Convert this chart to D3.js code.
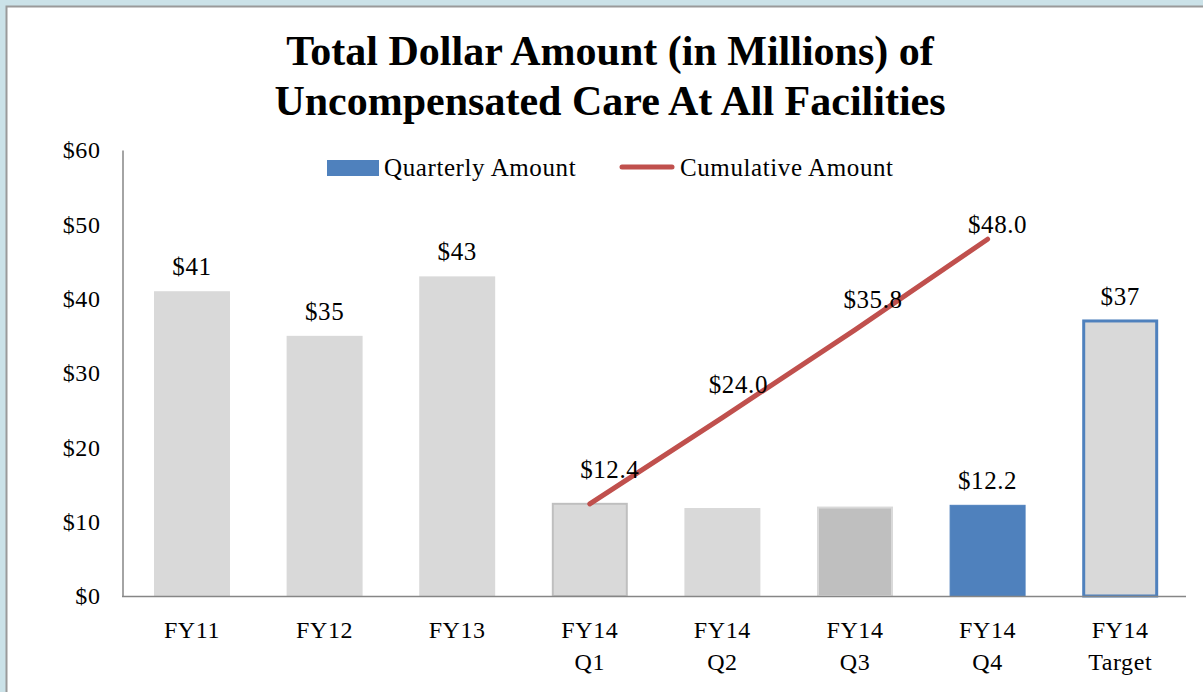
<!DOCTYPE html>
<html>
<head>
<meta charset="utf-8">
<script src="https://cdn.jsdelivr.net/npm/d3@7"></script>
<style>
  html, body { margin: 0; padding: 0; background: #cbe2e8; }
  svg { display: block; }
  text { font-family: "Liberation Serif", "Times New Roman", serif; fill: #000; }
</style>
</head>
<body>
<svg id="chart" width="1203" height="692"></svg>
<script>
// ---- data ----
const categories = ["FY11", "FY12", "FY13", "FY14 Q1", "FY14 Q2", "FY14 Q3", "FY14 Q4", "FY14 Target"];
const categoryLines = [["FY11"], ["FY12"], ["FY13"], ["FY14", "Q1"], ["FY14", "Q2"], ["FY14", "Q3"], ["FY14", "Q4"], ["FY14", "Target"]];
const barValues = [41, 35, 43, 12.4, 11.7, 11.9, 12.2, 37];
const barLabels = ["$41", "$35", "$43", "", "", "", "$12.2", "$37"];
const cumulativeCategories = ["FY14 Q1", "FY14 Q2", "FY14 Q3", "FY14 Q4"];
const cumulativeValues = [12.4, 24.0, 35.8, 48.0];
const cumulativeLabels = ["$12.4", "$24.0", "$35.8", "$48.0"];
const yTicks = [0, 10, 20, 30, 40, 50, 60];
const yTickLabels = ["$0", "$10", "$20", "$30", "$40", "$50", "$60"];
const titleLines = ["Total Dollar Amount (in Millions) of", "Uncompensated Care At All Facilities"];
const legendLabels = ["Quarterly Amount", "Cumulative Amount"];

// ---- styles (kept apart from data) ----
const barStyle = [
  {fill: "#d9d9d9", stroke: "none", sw: 0},
  {fill: "#d9d9d9", stroke: "none", sw: 0},
  {fill: "#d9d9d9", stroke: "none", sw: 0},
  {fill: "#d9d9d9", stroke: "#bfbfbf", sw: 2},
  {fill: "#d9d9d9", stroke: "#d9d9d9", sw: 2},
  {fill: "#bfbfbf", stroke: "#d9d9d9", sw: 2},
  {fill: "#4f81bd", stroke: "#4f81bd", sw: 1},
  {fill: "#d9d9d9", stroke: "#4f81bd", sw: 3}
];
const lineLabelOffset = [[20, -26], [16, -25], [18, -22], [10, -6]];

const svg = d3.select("#chart");

// panel
svg.append("rect").attr("x", 6.5).attr("y", 6.5).attr("width", 1250).attr("height", 760)
  .attr("fill", "#fff").attr("stroke", "#9a9a9a").attr("stroke-width", 2);

// title
svg.append("g").selectAll("text").data(titleLines).join("text")
  .attr("x", 610).attr("y", (d, i) => 65 + i * 50)
  .attr("text-anchor", "middle")
  .style("font-size", "42px").style("font-weight", "bold")
  .text(d => d);

// scales
const x = d3.scaleBand().domain(categories).range([125.7, 1186.5]).paddingInner(0.427).paddingOuter(0.2135);
const y = d3.scaleLinear().domain([0, 60]).range([596, 150]);

// y axis
const yAxis = d3.axisLeft(y).tickValues(yTicks).tickFormat((d, i) => yTickLabels[i]).tickSize(0).tickPadding(22);
const gy = svg.append("g").attr("transform", "translate(122.5,0)").call(yAxis);
gy.select(".domain").attr("stroke", "#868686").attr("stroke-width", 1.5);
gy.selectAll("text").style("font-size", "24px").style("font-family", "Liberation Serif, Times New Roman, serif")
  .style("letter-spacing", "0.6px").attr("dy", "0.32em");

// bars
svg.append("g").selectAll("rect").data(barValues).join("rect")
  .attr("x", (d, i) => x(categories[i]) + barStyle[i].sw / 2)
  .attr("width", (d, i) => x.bandwidth() - barStyle[i].sw)
  .attr("y", d => y(d))
  .attr("height", d => y(0) - y(d))
  .attr("fill", (d, i) => barStyle[i].fill)
  .attr("stroke", (d, i) => barStyle[i].stroke)
  .attr("stroke-width", (d, i) => barStyle[i].sw);

// x axis line
svg.append("line").attr("x1", 122).attr("x2", 1186).attr("y1", y(0) + 0.5).attr("y2", y(0) + 0.5)
  .attr("stroke", "#868686").attr("stroke-width", 1.5);

// category labels
const cat = svg.append("g").selectAll("text").data(categoryLines).join("text")
  .attr("text-anchor", "middle")
  .attr("x", (d, i) => x(categories[i]) + x.bandwidth() / 2)
  .attr("y", 638)
  .style("font-size", "24px").style("letter-spacing", "0.6px");
cat.selectAll("tspan").data(d => d).join("tspan")
  .attr("x", function () { return this.parentNode.getAttribute("x"); })
  .attr("dy", (d, i) => i === 0 ? 0 : 32)
  .text(d => d);

// bar labels
svg.append("g").selectAll("text").data(barValues).join("text")
  .attr("text-anchor", "middle")
  .attr("x", (d, i) => x(categories[i]) + x.bandwidth() / 2)
  .attr("y", (d, i) => y(d) - 16)
  .style("font-size", "25px").style("letter-spacing", "0.6px")
  .text((d, i) => barLabels[i]);

// cumulative line
const line = d3.line()
  .x((d, i) => x(cumulativeCategories[i]) + x.bandwidth() / 2)
  .y(d => y(d));
svg.append("path").datum(cumulativeValues).attr("d", line)
  .attr("fill", "none").attr("stroke", "#c0504d").attr("stroke-width", 5)
  .attr("stroke-linecap", "round").attr("stroke-linejoin", "round");

svg.append("g").selectAll("text").data(cumulativeValues).join("text")
  .attr("text-anchor", "middle")
  .attr("x", (d, i) => x(cumulativeCategories[i]) + x.bandwidth() / 2 + lineLabelOffset[i][0])
  .attr("y", (d, i) => y(d) + lineLabelOffset[i][1])
  .style("font-size", "25px").style("letter-spacing", "0.6px")
  .text((d, i) => cumulativeLabels[i]);

// legend
const lg = svg.append("g");
lg.append("rect").attr("x", 327).attr("y", 160).attr("width", 52).attr("height", 16).attr("fill", "#4f81bd");
lg.append("text").attr("x", 384).attr("y", 176).style("font-size", "25px").style("letter-spacing", "0.6px").text(legendLabels[0]);
lg.append("line").attr("x1", 622).attr("x2", 672).attr("y1", 167).attr("y2", 167)
  .attr("stroke", "#c0504d").attr("stroke-width", 5).attr("stroke-linecap", "round");
lg.append("text").attr("x", 680).attr("y", 176).style("font-size", "25px").style("letter-spacing", "0.6px").text(legendLabels[1]);
</script>
</body>
</html>
